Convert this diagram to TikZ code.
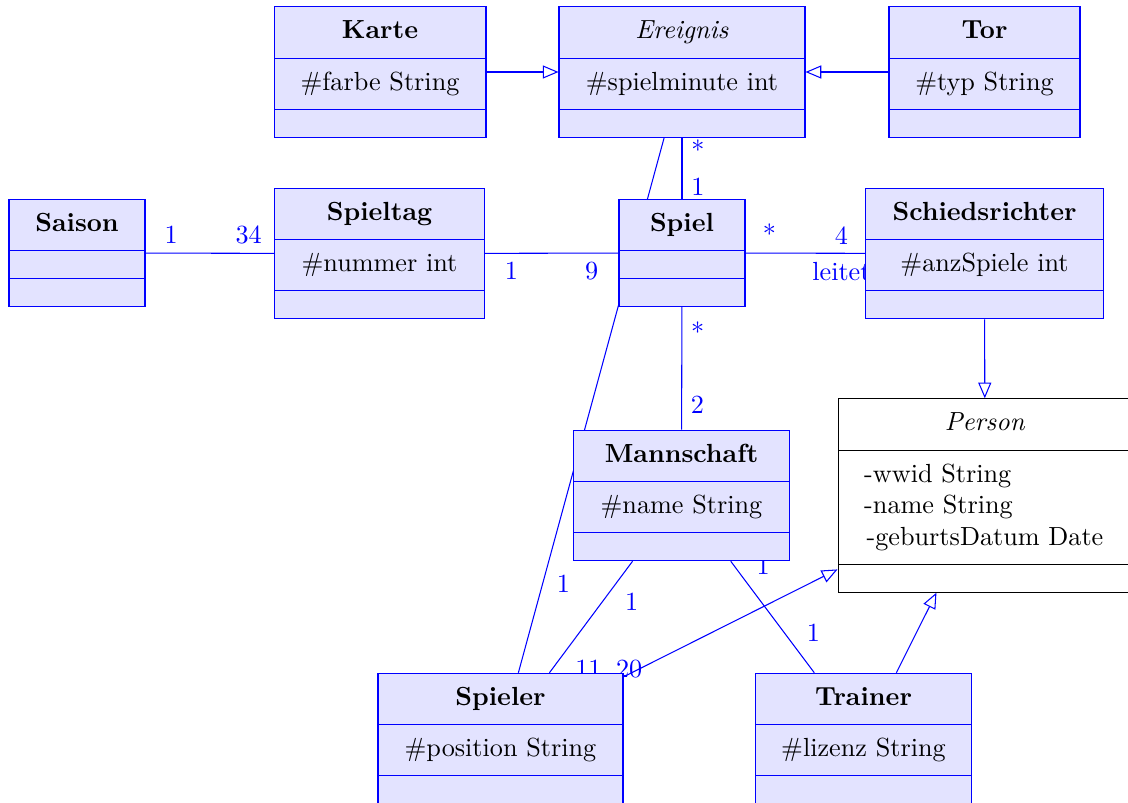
\documentclass[tikz,border=0pt]{standalone}
\usepackage{amsmath}
\usepackage{tikz}
\usetikzlibrary{arrows.meta,shapes.multipart,backgrounds}

\begin{document}
\begin{tikzpicture}[x=0.3817pt,y=-0.3817pt,
                    class/.style={rectangle split,rectangle split parts=3,draw=blue,fill=blue!11,
                                  inner xsep=0pt,inner ysep=3.6pt,align=center},
                    abstract/.style={rectangle split,rectangle split parts=3,draw=black,fill=white,
                                  inner xsep=10pt,inner ysep=3.6pt,align=center},
                    inherit/.style={-{Triangle[open,length=6pt,width=5pt]}}]
\useasboundingbox (0,0) rectangle (1128,803);

\node[class,text width=80.9pt] (Karte) at (380,72) {\strut\textbf{Karte}\nodepart{two}\strut\#farbe String\nodepart{three}\rule{0pt}{3pt}};
\node[class,text width=93.9pt] (Ereignis) at (682,72) {\strut\textit{Ereignis}\nodepart{two}\strut\#spielminute int\nodepart{three}\rule{0pt}{3pt}};
\node[class,text width=72.9pt] (Tor) at (984.5,72) {\strut\textbf{Tor}\nodepart{two}\strut\#typ String\nodepart{three}\rule{0pt}{3pt}};
\node[class,text width=51.9pt] (Saison) at (77,253) {\strut\textbf{Saison}\nodepart{two}\rule{0pt}{3pt}\nodepart{three}\rule{0pt}{3pt}};
\node[class,text width=79.8pt] (Spieltag) at (379.5,253.5) {\strut\textbf{Spieltag}\nodepart{two}\strut\#nummer int\nodepart{three}\rule{0pt}{3pt}};
\node[class,text width=48.1pt] (Spiel) at (682,253) {\strut\textbf{Spiel}\nodepart{two}\rule{0pt}{3pt}\nodepart{three}\rule{0pt}{3pt}};
\node[class,text width=90.5pt] (Schiedsrichter) at (984.5,253.5) {\strut\textbf{Schiedsrichter}\nodepart{two}\strut\#anzSpiele int\nodepart{three}\rule{0pt}{3pt}};
\node[abstract,text width=92.2pt] (Person) at (985,495.5) {\strut\textit{Person}\nodepart{two}\raggedright\strut-wwid String\\\strut-name String\\\strut-geburtsDatum Date\nodepart{three}\rule{0pt}{3pt}};
\node[class,text width=82.1pt] (Mannschaft) at (681.5,495.5) {\strut\textbf{Mannschaft}\nodepart{two}\strut\#name String\nodepart{three}\rule{0pt}{3pt}};
\node[class,text width=93.5pt] (Spieler) at (500.5,738.5) {\strut\textbf{Spieler}\nodepart{two}\strut\#position String\nodepart{three}\rule{0pt}{3pt}};
\node[class,text width=82.8pt] (Trainer) at (863.5,738.5) {\strut\textbf{Trainer}\nodepart{two}\strut\#lizenz String\nodepart{three}\rule{0pt}{3pt}};

\begin{pgfonlayer}{background}
\path[blue]
(Karte) edge[inherit] (Ereignis)
(Tor) edge[inherit] (Ereignis)
(Ereignis) edge node[pos=0.2,right] {*} node[pos=0.8,right] {1} (Spiel)
           edge node[pos=0.8,below right] {1} (Spieler)
(Saison) edge node[pos=0.2,above] {1} node[pos=0.8,above] {34} (Spieltag)
(Spieltag) edge node[pos=0.2,below] {1} node[pos=0.8,below] {9} (Spiel)
(Spiel) edge node[pos=0.2,above] {*} node[pos=0.8,above] {4} node[pos=0.8,below] {leitet} (Schiedsrichter)
        edge node[pos=0.2,right] {*} node[pos=0.8,right] {2} (Mannschaft)
(Mannschaft) edge node[pos=0.2,below right] {1} node[pos=0.8,below right] {11..20} (Spieler)
             edge node[pos=0.2,above right] {1} node[pos=0.8,above right] {1} (Trainer)
(Schiedsrichter) edge[inherit] (Person)
(Spieler) edge[inherit] (Person)
(Trainer) edge[inherit] (Person);
\end{pgfonlayer}
\end{tikzpicture}
\end{document}
